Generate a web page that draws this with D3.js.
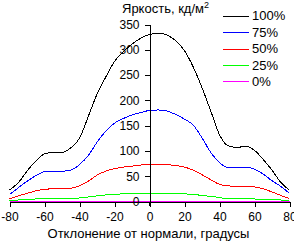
<!DOCTYPE html>
<html><head><meta charset="utf-8">
<script src="https://cdn.jsdelivr.net/npm/d3@7"></script>
<style>body{margin:0;background:#fff}svg{display:block}text{font-family:"Liberation Sans",Arial,sans-serif;fill:#000}</style>
</head><body><div id="c"></div>
<script>
const angles = [-80,-75,-70,-65,-60,-55,-50,-45,-40,-35,-30,-25,-20,-15,-10,-5,0,5,10,15,20,25,30,35,40,45,50,55,60,65,70,75,80];
const s100 = [23,37,60,80,94,97,97,106,125,168,212,246,277,296,311,323,330,333,329,318,298,266,225,179,132,110,107,109,101,83,62,38,22];
const s75  = [14,27,40,51,59,60,60,62,73,91,117,139,155,164,171,176,180,181,179,172,163,151,126,97,77,67,67,68,64,54,41,30,16];
const s50  = [5,11,16,21,24,25,25,26,31,40,52,60,65,68,70,72,74,74,73,71,68,62,53,43,34,31,30,30,29,25,19,12,6];
const s25  = [2,3,4,5,5,5,5,6,7,9,11,13,14,15,15,15,15,15,15,15,15,14,12,10,8,5,5,5,5,4,4,3,2];
const s0   = [0,0,0,0,0,0,0,0,0,0,0,0,0,0,0,0,0,0,0,0,0,0,0,0,0,0,0,0,0,0,0,0,0];
const seriesNames = ["100%","75%","50%","25%","0%"];
const seriesColors = ["#000000","#0000ff","#ff0000","#00ff00","#ff00ff"];
const xTicks = [-80,-60,-40,-20,0,20,40,60,80];
const yTicks = [0,50,100,150,200,250,300,350];
const yTitle = "Яркость, кд/м";
const xTitle = "Отклонение от нормали, градусы";

const W=294,H=242;
const svg=d3.select("#c").append("svg").attr("width",W).attr("height",H);
const x=d3.scaleLinear().domain([-80,80]).range([9.5,289.5]);
const y=d3.scaleLinear().domain([0,350]).range([201.5,24.5]);
const all=[s100,s75,s50,s25,s0];

const line=d3.line().x((d,i)=>x(angles[i])).y(d=>y(d)).curve(d3.curveMonotoneX);
// draw from bottom up
for(let k=all.length-1;k>=0;k--){
  svg.append("path").attr("d",line(all[k])).attr("fill","none")
    .attr("stroke",seriesColors[k]).attr("stroke-width",1).attr("shape-rendering","crispEdges");
}

// x axis
const xa=svg.append("g").attr("transform","translate(0,201.5)")
  .call(d3.axisBottom(x).tickValues(xTicks).tickSize(5).tickSizeOuter(0).tickFormat(d3.format("d")));
xa.select(".domain").attr("stroke","#000").attr("shape-rendering","crispEdges");
xa.selectAll(".tick line").attr("stroke","#000").attr("shape-rendering","crispEdges");
xa.selectAll(".tick text").attr("y",18).attr("dy","0.1em").style("font-size","12px").style("font-family","Liberation Sans, Arial, sans-serif").text(d=>d<0?"-"+Math.abs(d):d);

// y axis
const ya=svg.append("g").attr("transform","translate(149.5,0)")
  .call(d3.axisLeft(y).tickValues(yTicks).tickSize(5).tickSizeOuter(0).tickFormat(d3.format("d")));
ya.select(".domain").attr("stroke","#000").attr("shape-rendering","crispEdges");
ya.selectAll(".tick line").attr("stroke","#000").attr("shape-rendering","crispEdges");
ya.selectAll(".tick text").attr("x",-10).style("font-size","12px").style("font-family","Liberation Sans, Arial, sans-serif");
svg.append("line").attr("x1",149.5).attr("x2",149.5).attr("y1",201.5).attr("y2",206).attr("stroke","#000").attr("shape-rendering","crispEdges");

// titles
const t=svg.append("text").attr("x",122).attr("y",13).style("font-size","13px").text(yTitle);
t.append("tspan").attr("dy",-5).style("font-size","9px").text("2");
svg.append("text").attr("x",148.5).attr("y",238).attr("text-anchor","middle").style("font-size","13px").text(xTitle);

// legend
const ly=[15.5,32,48.5,65,81];
seriesNames.forEach((n,i)=>{
  svg.append("line").attr("x1",223).attr("x2",249).attr("y1",Math.round(ly[i])+0.5).attr("y2",Math.round(ly[i])+0.5)
    .attr("stroke",seriesColors[i]).attr("shape-rendering","crispEdges");
  svg.append("text").attr("x",252).attr("y",ly[i]).attr("dy","0.36em").style("font-size","13px").text(n);
});
</script></body></html>
